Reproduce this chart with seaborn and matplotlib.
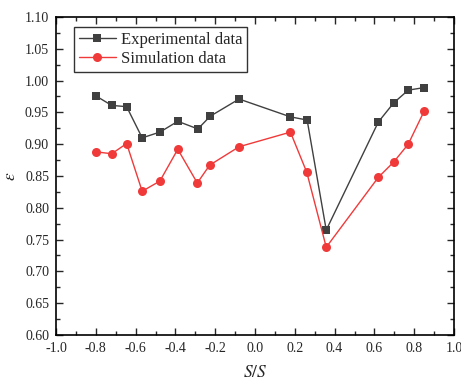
import matplotlib
matplotlib.use("Agg")
import matplotlib.pyplot as plt
import seaborn as sns
import pandas as pd
from matplotlib.ticker import MultipleLocator

x_exp = [-0.80, -0.72, -0.645, -0.567, -0.478, -0.388, -0.287, -0.225, -0.08, 0.178, 0.262, 0.358, 0.62, 0.697, 0.77, 0.85]
y_exp = [0.976, 0.961, 0.959, 0.910, 0.919, 0.936, 0.924, 0.944, 0.971, 0.943, 0.938, 0.765, 0.935, 0.965, 0.985, 0.989]
x_sim = [-0.80, -0.72, -0.645, -0.567, -0.478, -0.388, -0.29, -0.228, -0.08, 0.178, 0.26, 0.358, 0.62, 0.697, 0.77, 0.85]
y_sim = [0.888, 0.885, 0.901, 0.826, 0.842, 0.892, 0.839, 0.867, 0.896, 0.919, 0.856, 0.738, 0.848, 0.872, 0.900, 0.952]
labels = ["Experimental data", "Simulation data"]

sns.set_style("ticks")
plt.rcParams['font.family'] = ['Liberation Serif', 'DejaVu Serif']
plt.rcParams['mathtext.fontset'] = 'stix'

fig = plt.figure(figsize=(4.61, 3.80), dpi=100)
ax = fig.add_axes([56/461, 45/380, 398/461, 318/380])

df_e = pd.DataFrame({"x": x_exp, "y": y_exp})
df_s = pd.DataFrame({"x": x_sim, "y": y_sim})
sns.lineplot(data=df_e, x="x", y="y", ax=ax, color="#404040", marker="s", markersize=6,
             markeredgewidth=0, linewidth=1.0, sort=False, label=labels[0])
sns.lineplot(data=df_s, x="x", y="y", ax=ax, color="#f03a3a", marker="o", markersize=6.5,
             markeredgewidth=0, linewidth=1.0, sort=False, label=labels[1])

ax.set_xlim(-1.0, 1.0)
ax.set_ylim(0.60, 1.10)
ax.xaxis.set_major_locator(MultipleLocator(0.2))
ax.xaxis.set_minor_locator(MultipleLocator(0.1))
ax.yaxis.set_major_locator(MultipleLocator(0.05))
ax.yaxis.set_minor_locator(MultipleLocator(0.025))
ax.xaxis.set_major_formatter(matplotlib.ticker.FormatStrFormatter('%.1f'))
ax.yaxis.set_major_formatter(matplotlib.ticker.FormatStrFormatter('%.2f'))
ax.tick_params(which='both', direction='in', top=True, right=True, labelsize=10, width=1.0)
ax.tick_params(which='major', length=5, pad=5)
ax.tick_params(which='minor', length=3)
for s in ax.spines.values():
    s.set_linewidth(1.2)
    s.set_color('black')

ax.set_xlabel("$S/S$", fontsize=12.5, labelpad=7)
ax.set_ylabel(r"$\varepsilon$", fontsize=12.5, labelpad=4)

leg = ax.legend(loc='upper left', bbox_to_anchor=(0.045, 0.97), fontsize=12, frameon=True,
                fancybox=False, edgecolor='black', handlelength=2.2, borderpad=0.3,
                labelspacing=0.2, handletextpad=0.3, borderaxespad=0)
leg.get_frame().set_linewidth(1.0)

fig.savefig("out.png", dpi=100)
